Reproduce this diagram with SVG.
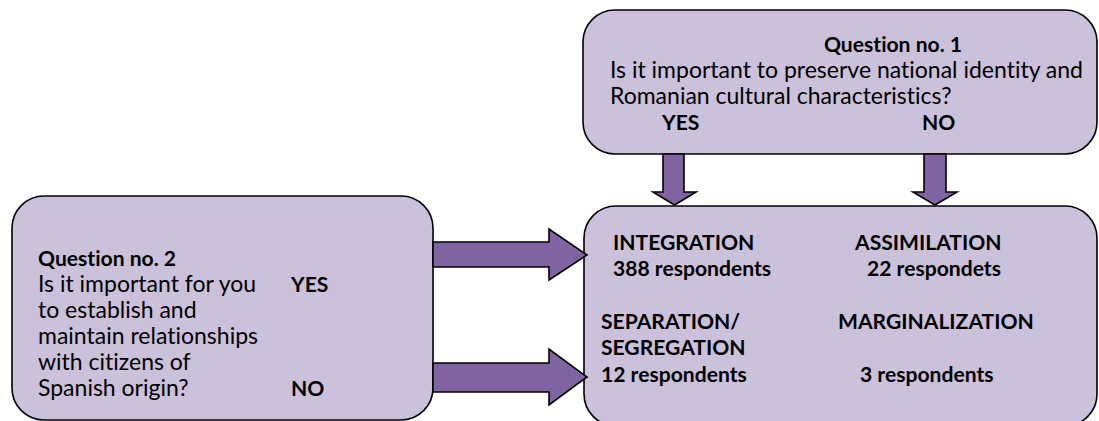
<svg xmlns="http://www.w3.org/2000/svg" width="1099" height="421" viewBox="0 0 1099 421">
<style>
.box{fill:#CCC1DA;stroke:#000;stroke-width:1.6}
.arr{fill:#8064A2;stroke:#000;stroke-width:1.6;stroke-linejoin:miter}
text{font-family:Lato,"Open Sans","Liberation Sans",sans-serif;font-size:23px;fill:#000;font-variant-ligatures:none}
.b{font-weight:bold;font-size:21.1px}
</style>
<rect width="1099" height="421" fill="#fff"/>
<g id="q1">
<rect class="box" x="583" y="10" width="514" height="144" rx="32"/>
<text class="b" x="893" y="52" text-anchor="middle">Question no. 1</text>
<text x="610" y="78">Is it important to preserve national identity and</text>
<text x="610" y="104">Romanian cultural characteristics?</text>
<text class="b" x="662" y="130">YES</text>
<text class="b" x="922" y="130">NO</text>
</g>
<g id="q2">
<rect class="box" x="12" y="196" width="421" height="224" rx="32"/>
<text class="b" x="38" y="266">Question no. 2</text>
<text x="38" y="292">Is it important for you</text>
<text x="38" y="318">to establish and</text>
<text x="38" y="344">maintain relationships</text>
<text x="38" y="370">with citizens of</text>
<text x="38" y="396">Spanish origin?</text>
<text class="b" x="291" y="292">YES</text>
<text class="b" x="291" y="396">NO</text>
</g>
<g id="outcomes">
<rect class="box" x="584" y="206" width="513" height="220" rx="32"/>
<text class="b" x="613" y="250">INTEGRATION</text>
<text class="b" x="613" y="276">388 respondents</text>
<text class="b" x="855" y="250">ASSIMILATION</text>
<text class="b" x="867" y="276">22 respondets</text>
<text class="b" x="601" y="329">SEPARATION/</text>
<text class="b" x="601" y="355">SEGREGATION</text>
<text class="b" x="601" y="382">12 respondents</text>
<text class="b" x="838" y="329">MARGINALIZATION</text>
<text class="b" x="860" y="382">3 respondents</text>
</g>
<g id="connectors">
<polygon class="arr" points="663,154 684,154 684,192 696,192 674.5,205 653,192 663,192"/>
<polygon class="arr" points="924,154 946,154 946,192 957,192 935,205 913,192 924,192"/>
<polygon class="arr" points="433,242 549,242 549,229 587,255 549,280 549,267 433,267"/>
<polygon class="arr" points="433,363 549,363 549,349 587,377 549,405 549,392 433,392"/>
</g>
</svg>
